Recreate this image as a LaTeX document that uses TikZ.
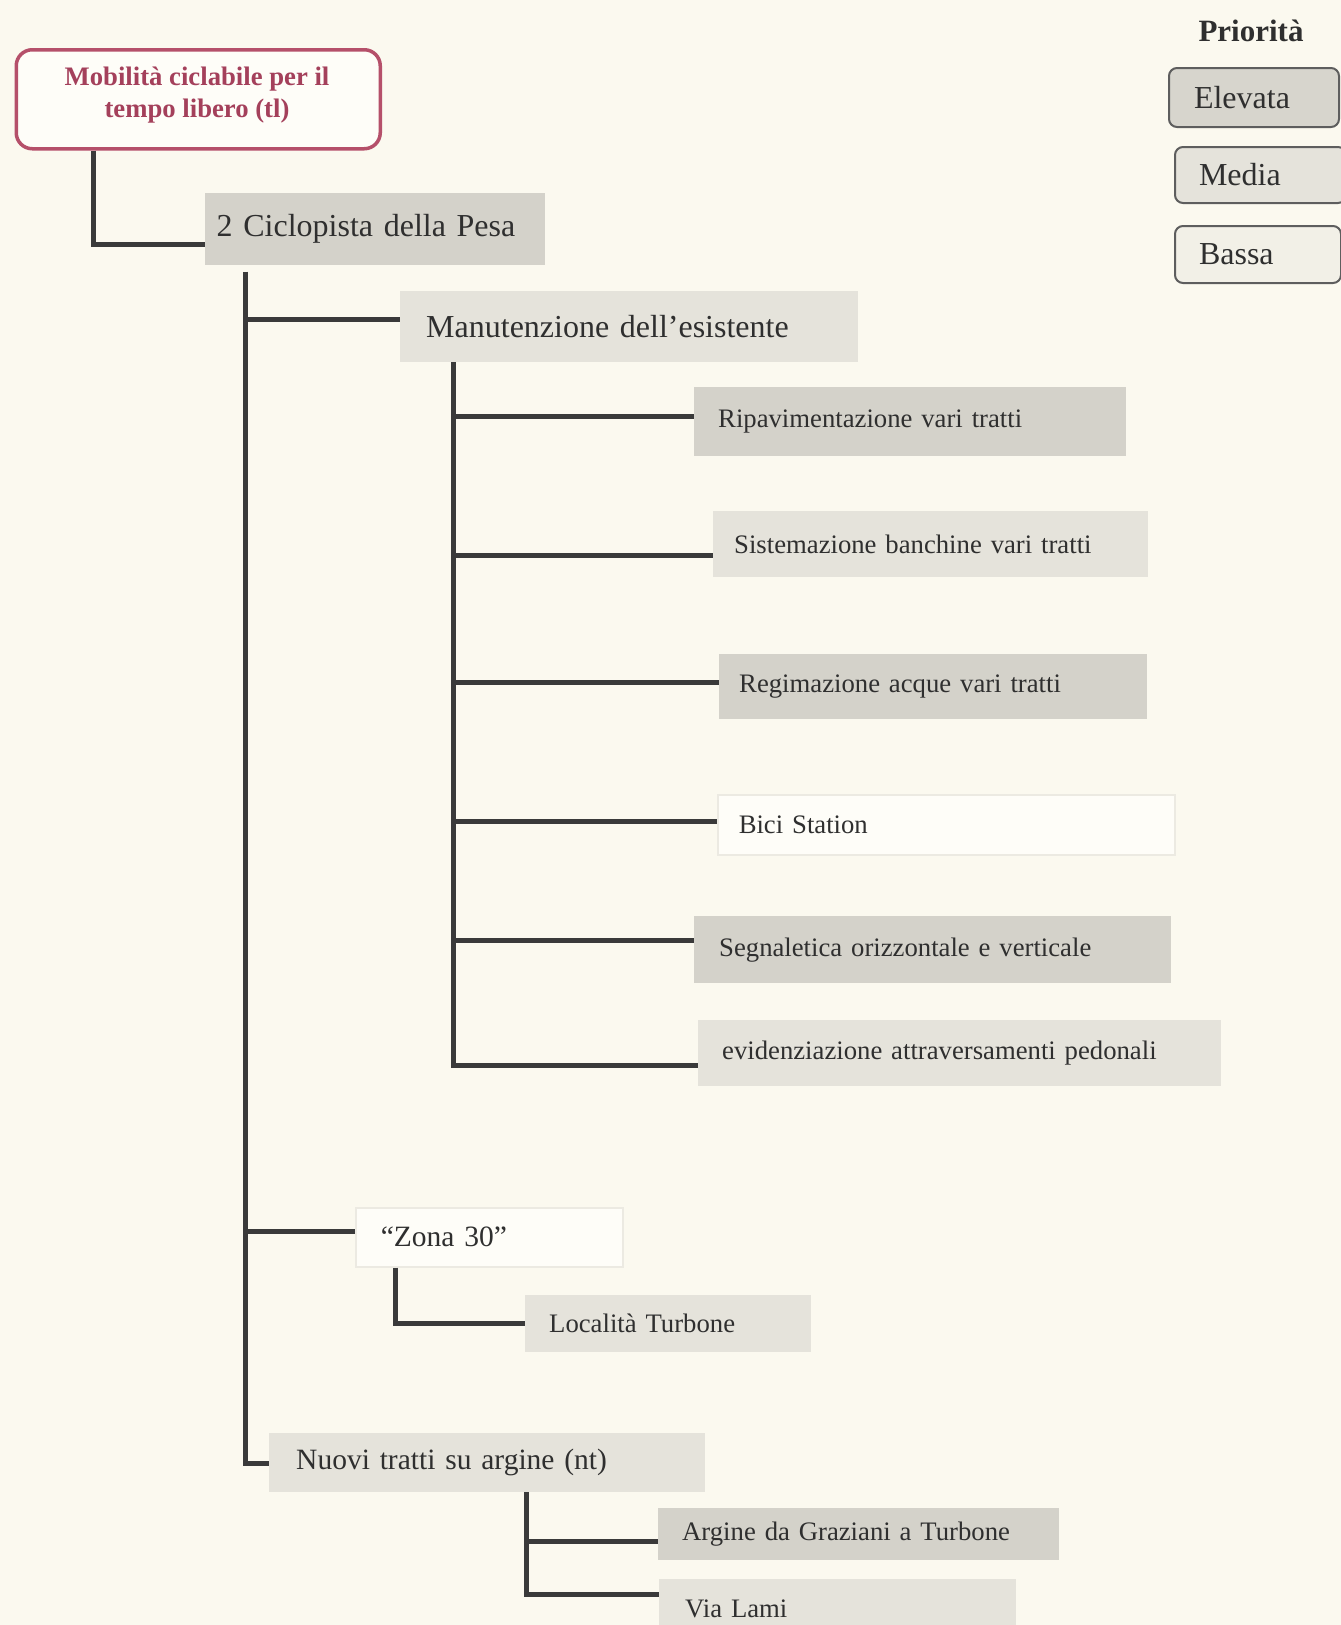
\documentclass[tikz,border=0pt]{standalone}
\usepackage{fontspec}
\setmainfont{Liberation Serif}
\definecolor{paper}{HTML}{FBF9EF}
\definecolor{ink}{HTML}{2F2F2F}
\definecolor{wire}{HTML}{3A3A3A}
\definecolor{crim}{HTML}{B5506A}
\definecolor{crimtext}{HTML}{A4405B}
\definecolor{gdark}{HTML}{D4D2CA}
\definecolor{glight}{HTML}{E5E3DB}
\definecolor{gwhite}{HTML}{FEFDF8}
\definecolor{gedge}{HTML}{ECEAE2}
\definecolor{legframe}{HTML}{5E5E5E}
\newcommand{\szbig}{\fontsize{32}{38}\selectfont}
\newcommand{\szmid}{\fontsize{29.5}{35}\selectfont}
\newcommand{\szleaf}{\fontsize{26.7}{32}\selectfont}
\tikzset{
  conn/.style={draw=wire, line width=5pt},
  box/.style={rectangle, anchor=north west, inner ysep=0pt, align=left, text=ink},
  legbox/.style={box, draw=legframe, line width=2pt, rounded corners=8pt, font=\szbig}
}
\begin{document}
\begin{tikzpicture}[x=1pt,y=-1pt]
\clip (0,0) rectangle (1341,1625);
\fill[paper] (0,0) rectangle (1341,1625);

% root
\node[rectangle, anchor=north west, draw=crim, line width=3.5pt, rounded corners=16pt,
      fill=gwhite, minimum width=364pt, minimum height=99pt] (top) at (14.5,48) {};
\node[align=center, text=crimtext, inner sep=0pt,
      font=\fontsize{26.7}{31.5}\selectfont\bfseries] (toptext) at (197,95)
      {Mobilità ciclabile per il\\ tempo libero (tl)};

% level 1
\node[box, fill=gdark, font=\szbig, minimum height=72pt, text width=317pt, inner xsep=11.5pt] (cicl) at (205,193) {2 Ciclopista della Pesa};

% level 2
\node[box, fill=glight, font=\szbig, minimum height=71pt, text width=406pt, inner xsep=26pt] (manu) at (400,291) {Manutenzione dell’esistente};
\node[box, fill=gwhite, draw=gedge, line width=1.5pt, font=\szmid, minimum height=59pt, text width=217pt, inner xsep=25pt] (zona) at (355,1207) {“Zona 30”};
\node[box, fill=glight, font=\szmid, minimum height=59pt, text width=382pt, inner xsep=27pt] (nuov) at (269,1433) {Nuovi tratti su argine (nt)};

% level 3 under Manutenzione
\node[box, fill=gdark, font=\szleaf, minimum height=69.5pt, text width=384pt, inner xsep=24pt] (ripa) at (694,386.5) {Ripavimentazione vari tratti};
\node[box, fill=glight, font=\szleaf, minimum height=66pt, text width=393pt, inner xsep=21pt] (sist) at (713,511) {Sistemazione banchine vari tratti};
\node[box, fill=gdark, font=\szleaf, minimum height=65pt, text width=388pt, inner xsep=20pt] (regi) at (719,654) {Regimazione acque vari tratti};
\node[box, fill=gwhite, draw=gedge, line width=1.5pt, font=\szleaf, minimum height=60pt, text width=415pt, inner xsep=21pt] (bici) at (717,794) {Bici Station};
\node[box, fill=gdark, font=\szleaf, minimum height=67pt, text width=427pt, inner xsep=25pt] (segn) at (694,916) {Segnaletica orizzontale e verticale};
\node[box, fill=glight, font=\szleaf, minimum height=66pt, text width=475pt, inner xsep=24pt] (evid) at (698,1020) {evidenziazione attraversamenti pedonali};

% level 3 under Zona 30 and Nuovi tratti
\node[box, fill=glight, font=\szleaf, minimum height=57pt, text width=238pt, inner xsep=24pt] (loca) at (525,1295) {Località Turbone};
\node[box, fill=gdark, font=\szleaf, minimum height=52pt, text width=353pt, inner xsep=24pt] (argi) at (658,1508) {Argine da Graziani a Turbone};
\node[box, fill=glight, font=\szleaf, minimum height=60pt, text width=305pt, inner xsep=26pt] (lami) at (659,1579) {Via Lami};

% junction points of the tree
\coordinate (j0) at (93,244.6);
\coordinate (t1) at (245,271.5);
\coordinate (t1m) at (245,319);
\coordinate (t1z) at (245,1231);
\coordinate (t1n) at (245,1463);
\coordinate (t2) at (453,362);
\coordinate (t2a) at (453,416.6);
\coordinate (t2b) at (453,555.5);
\coordinate (t2c) at (453,682);
\coordinate (t2d) at (453,821);
\coordinate (t2e) at (453,940);
\coordinate (t2f) at (453,1065);
\coordinate (jz) at (395,1323);
\coordinate (jn1) at (526,1541);
\coordinate (jn2) at (526,1594);

% connectors
\draw[conn] (top.south -| j0) |- (cicl.west |- j0);
\draw[conn] (t1) -- (t1n) -- (nuov.west |- t1n);
\draw[conn] (t1m) -- (manu.west |- t1m);
\draw[conn] (t1z) -- (zona.west |- t1z);
\draw[conn] (manu.south -| t2) -- (t2f) -- (evid.west |- t2f);
\draw[conn] (t2a) -- (ripa.west |- t2a);
\draw[conn] (t2b) -- (sist.west |- t2b);
\draw[conn] (t2c) -- (regi.west |- t2c);
\draw[conn] (t2d) -- (bici.west |- t2d);
\draw[conn] (t2e) -- (segn.west |- t2e);
\draw[conn] (zona.south -| jz) |- (loca.west |- jz);
\draw[conn] (nuov.south -| jn2) -- (jn2) -- (lami.west |- jn2);
\draw[conn] (jn1) -- (argi.west |- jn1);

% priority legend
\node[font=\fontsize{31}{36}\selectfont\bfseries, text=ink] (prio) at (1251,31) {Priorità};
\node[legbox, fill=gdark!80!glight, minimum height=59pt, text width=120pt, inner xsep=25pt] (elev) at (1168,67) {Elevata};
\node[legbox, fill=glight, minimum height=56pt, text width=123pt, inner xsep=24pt] (medi) at (1174,146) {Media};
\node[legbox, fill=paper!60!glight, minimum height=57pt, text width=118pt, inner xsep=24pt] (bass) at (1174,225) {Bassa};
\end{tikzpicture}
\end{document}
